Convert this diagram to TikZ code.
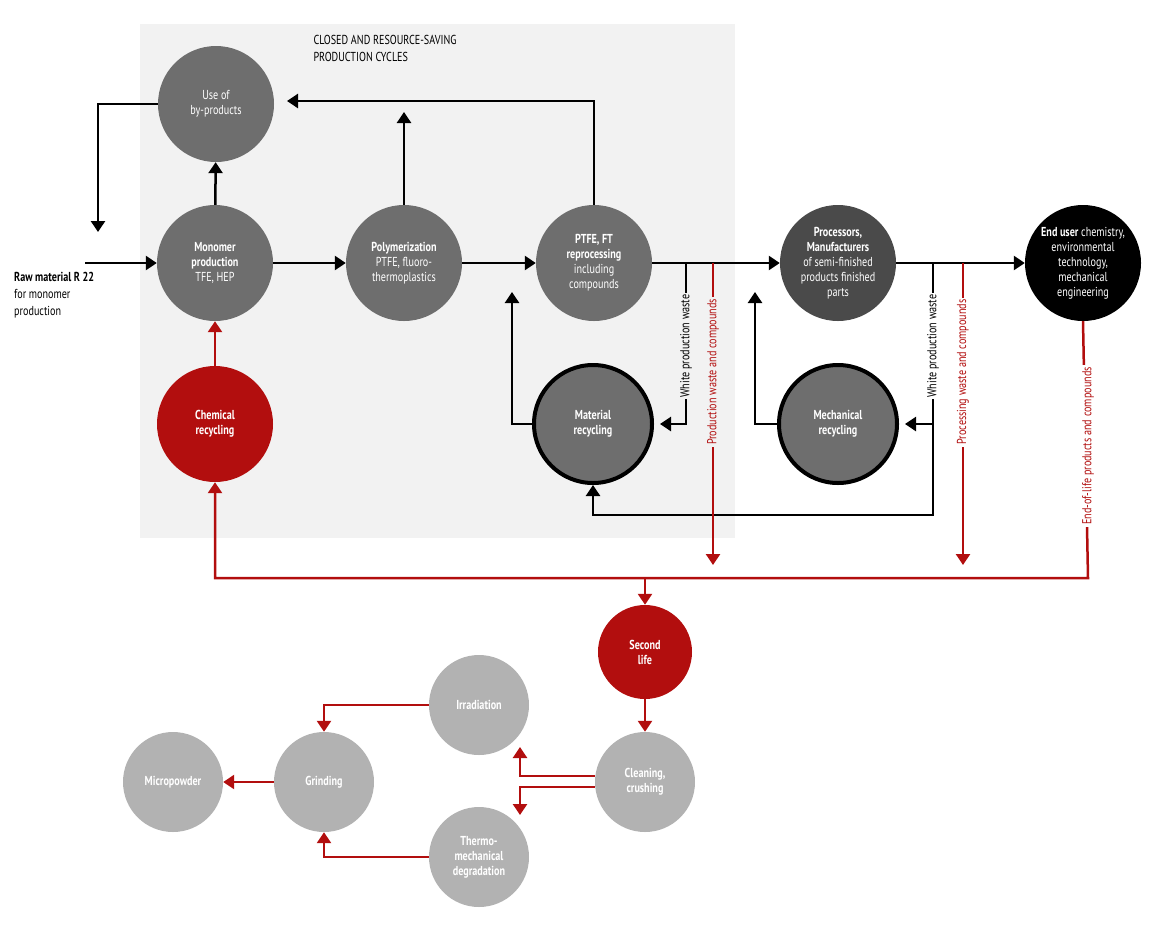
\documentclass[tikz,border=0pt]{standalone}
\usepackage{fontspec}
\setmainfont{PT Sans}[FakeStretch=0.78]
\usetikzlibrary{arrows.meta}
\definecolor{bgray}{HTML}{F2F2F2}
\definecolor{dgray}{HTML}{6E6E6E}
\definecolor{ddgray}{HTML}{4A4A4A}
\definecolor{lgray}{HTML}{B2B2B2}
\definecolor{myred}{HTML}{B20E0E}
\tikzset{
  stage/.style={circle, minimum size=116pt, inner sep=1pt, fill=dgray, text=white, align=center, font=\fontsize{13}{15}\selectfont},
  recyc/.style={stage, draw=black, line width=4pt, minimum size=118pt},
  side/.style={stage, fill=lgray, minimum size=100pt},
  flow/.style={line width=2.5pt, -{Triangle[width=14pt,length=11pt]}},
  wflow/.style={flow, draw=myred},
  vlabel/.style={rotate=90, inner sep=2pt, font=\fontsize{13}{15}\selectfont}
}
\begin{document}
\begin{tikzpicture}[x=1pt,y=-1pt]
\useasboundingbox (0,0) rectangle (1172,946);
\fill[bgray] (140,24) rectangle (735,538);
\node[anchor=north west, align=left, font=\fontsize{13}{17}\selectfont] at (310,32) {CLOSED AND RESOURCE-SAVING\\PRODUCTION CYCLES};

% main cycle
\node[stage] (byprod) at (216,104) {Use of\\by-products};
\node[stage] (monomer) at (215,263) {\textbf{Monomer}\\\textbf{production}\\TFE, HEP};
\node[stage] (poly) at (404,263) {\textbf{Polymerization}\\PTFE, fluoro-\\thermoplastics};
\node[stage] (reproc) at (594,263) {\textbf{PTFE, FT}\\\textbf{reprocessing}\\including\\compounds};
\node[stage, fill=ddgray] (proc) at (838,263) {\textbf{Processors,}\\\textbf{Manufacturers}\\of semi-finished\\products finished\\parts};
\node[stage, fill=black] (enduser) at (1083,263) {\textbf{End user} chemistry,\\environmental\\technology,\\mechanical\\engineering};
\node[stage, fill=myred] (chem) at (215,424) {\textbf{Chemical}\\\textbf{recycling}};
\node[recyc] (matrec) at (593,424) {\textbf{Material}\\\textbf{recycling}};
\node[recyc] (mechrec) at (838,424) {\textbf{Mechanical}\\\textbf{recycling}};

% second life
\node[stage, fill=myred, minimum size=94pt] (second) at (645,652) {\textbf{Second}\\\textbf{life}};
\node[side] (clean) at (645,782) {\textbf{Cleaning,}\\\textbf{crushing}};
\node[side] (irrad) at (479,705) {\textbf{Irradiation}};
\node[side] (thermo) at (479,857) {\textbf{Thermo-}\\\textbf{mechanical}\\\textbf{degradation}};
\node[side] (grind) at (324,782) {\textbf{Grinding}};
\node[side] (micro) at (173,782) {\textbf{Micropowder}};

\node[anchor=north west, align=left, inner sep=0pt, font=\fontsize{13}{17}\selectfont] (raw) at (14,272) {\textbf{Raw material R 22}\\for monomer\\production};
\coordinate (rawin) at (85,263);

% black flows
\draw[flow] (rawin) -- (monomer);
\draw[flow] (byprod.west) -- (98,104) -- (98,232);
\draw[flow] (monomer) -- (byprod);
\draw[flow] (monomer) -- (poly);
\draw[flow] (poly.north) -- (404,112);
\draw[flow] (reproc.north) -- (594,101) -- (287,101);
\draw[flow] (poly) -- (reproc);
\draw[flow] (reproc) -- (proc);
\draw[flow] (proc) -- (enduser);
\draw[flow] (matrec.west) -- (512,424) -- (512,292);
\draw[flow] (mechrec.west) -- (755,424) -- (755,292);
\draw[flow] (686,263) -- (686,424) -- (660,424);
\draw[flow] (933,263) -- (933,424) -- (905,424);
\draw[flow] (933,424) -- (933,515) -- (593,515) -- (matrec.south);
\node[vlabel, fill=bgray] at (686,346) {White production waste};
\node[vlabel, fill=white] at (933,346) {White production waste};

% red flows
\draw[wflow] (713,263) -- (713,565);
\draw[wflow] (963,263) -- (963,565);
\node[vlabel, fill=bgray, text=myred] at (713,372) {Production waste and compounds};
\node[vlabel, fill=white, text=myred] at (963,372) {Processing waste and compounds};
\draw[wflow] (enduser.south) -- (1088,578) -- (215,578) -- (chem.south);
\node[vlabel, fill=white, text=myred] at (1088,446) {End-of-life products and compounds};
\draw[wflow] (645,578) -- (second.north);
\draw[wflow] (chem) -- (monomer);
\draw[wflow] (second) -- (clean);
\draw[wflow] (clean.west |- 0,776) -- (520,776) -- (520,747);
\draw[wflow] (clean.west |- 0,787) -- (520,787) -- (520,815);
\draw[wflow] (irrad.west) -- (324,705) -- (grind.north);
\draw[wflow] (thermo.west) -- (324,857) -- (grind.south);
\draw[wflow] (grind) -- (micro);
\end{tikzpicture}
\end{document}
